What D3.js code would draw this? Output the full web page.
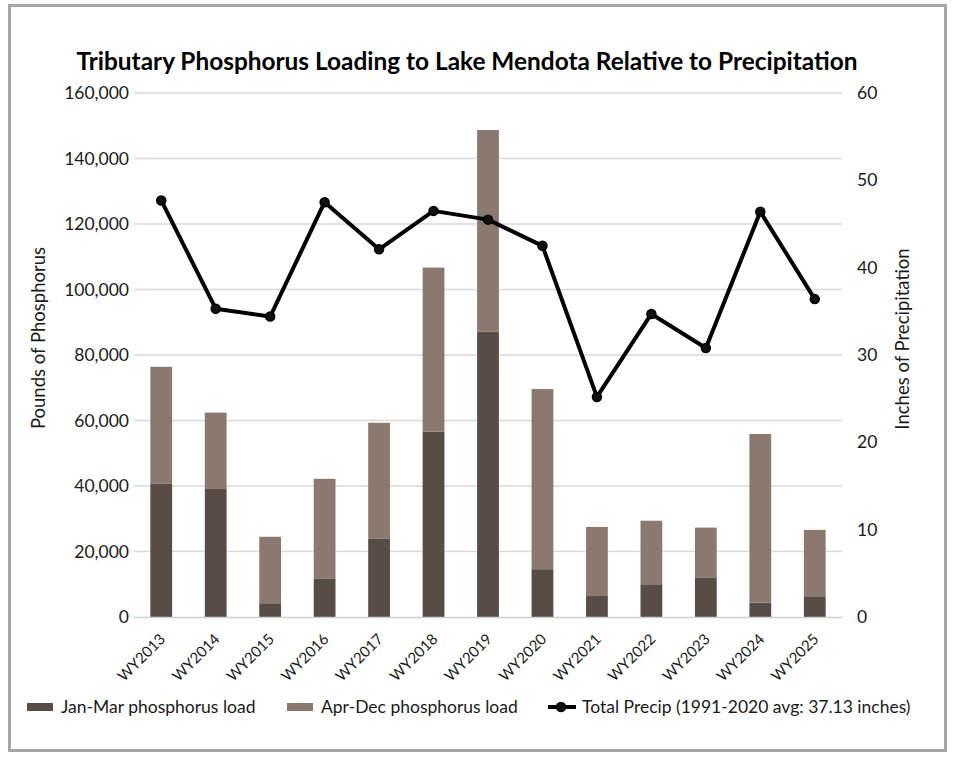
<!DOCTYPE html>
<html>
<head>
<meta charset="utf-8">
<script src="https://cdn.jsdelivr.net/npm/d3@7"></script>
<style>
  html, body { margin: 0; padding: 0; background: #fff; }
  svg { display: block; font-family: Lato, "Open Sans", sans-serif; }
</style>
</head>
<body>
<svg id="chart" width="953" height="759"></svg>
<script>
const categories = ["WY2013","WY2014","WY2015","WY2016","WY2017","WY2018","WY2019","WY2020","WY2021","WY2022","WY2023","WY2024","WY2025"];
const janMarLoad = [40800, 39300, 4200, 11800, 24000, 56600, 87100, 14600, 6400, 10000, 12100, 4400, 6100];
const aprDecLoad = [35600, 23100, 20300, 30400, 35300, 50100, 61600, 55000, 21100, 19400, 15200, 51500, 20500];
const totalPrecip = [47.7, 35.3, 34.4, 47.5, 42.1, 46.5, 45.5, 42.5, 25.2, 34.7, 30.8, 46.4, 36.4];
const leftTicks = [0, 20000, 40000, 60000, 80000, 100000, 120000, 140000, 160000];
const rightTicks = [0, 10, 20, 30, 40, 50, 60];
const seriesNames = ["Jan-Mar phosphorus load", "Apr-Dec phosphorus load", "Total Precip (1991-2020 avg: 37.13 inches)"];
const titleText = "Tributary Phosphorus Loading to Lake Mendota Relative to Precipitation";

const colors = { jan: "#574c46", apr: "#8b7970", line: "#000000", grid: "#d9d9d9" };

const svg = d3.select("#chart");
const m = { left: 134, right: 842, top: 93, bottom: 617 };

// outer border
svg.append("rect").attr("x", 9.5).attr("y", 5.5).attr("width", 936).attr("height", 745)
  .attr("fill", "#fff").attr("stroke", "#a6a6a6").attr("stroke-width", 3);

const x = d3.scaleBand().domain(categories).range([m.left, m.right]).paddingInner(0.6).paddingOuter(0.3);
const yL = d3.scaleLinear().domain([0, 160000]).range([m.bottom, m.top]);
const yR = d3.scaleLinear().domain([0, 60]).range([m.bottom, m.top]);

// gridlines
svg.append("g").selectAll("line").data(leftTicks.slice(1)).join("line")
  .attr("x1", m.left).attr("x2", m.right)
  .attr("y1", d => yL(d)).attr("y2", d => yL(d))
  .attr("stroke", colors.grid).attr("stroke-width", 1.3);

// stacked bars
const stackData = categories.map((c, i) => ({ cat: c, jan: janMarLoad[i], apr: aprDecLoad[i] }));
const stack = d3.stack().keys(["jan", "apr"])(stackData);
const fills = { jan: colors.jan, apr: colors.apr };
svg.append("g").selectAll("g").data(stack).join("g")
  .attr("fill", d => fills[d.key])
  .selectAll("rect").data(d => d).join("rect")
  .attr("x", d => x(d.data.cat))
  .attr("width", x.bandwidth())
  .attr("y", d => yL(d[1]))
  .attr("height", d => yL(d[0]) - yL(d[1]));

// x axis baseline
svg.append("line").attr("x1", m.left).attr("x2", m.right).attr("y1", m.bottom + 0.5).attr("y2", m.bottom + 0.5)
  .attr("stroke", "#d0d0d0").attr("stroke-width", 1.5);

// left axis
const leftAxis = d3.axisLeft(yL).tickValues(leftTicks).tickFormat(d3.format(",")).tickSize(0).tickPadding(5);
const gL = svg.append("g").attr("transform", `translate(${m.left},0)`).call(leftAxis);
gL.select(".domain").remove();
gL.selectAll("text").attr("font-size", 17.5).attr("fill", "#1a1a1a").attr("font-family", "Lato");

// right axis
const rightAxis = d3.axisRight(yR).tickValues(rightTicks).tickSize(0).tickPadding(15);
const gR = svg.append("g").attr("transform", `translate(${m.right},0)`).call(rightAxis);
gR.select(".domain").remove();
gR.selectAll("text").attr("font-size", 17.5).attr("fill", "#1a1a1a").attr("font-family", "Lato");

// x axis labels
const bottomAxis = d3.axisBottom(x).tickSize(0).tickPadding(0);
const gB = svg.append("g").attr("transform", `translate(0,${m.bottom})`).call(bottomAxis);
gB.select(".domain").remove();
gB.selectAll("text")
  .attr("font-size", 15).attr("fill", "#1a1a1a").attr("font-family", "Lato")
  .attr("text-anchor", "end").attr("dy", 0)
  .attr("transform", "translate(5,23) rotate(-45)");

// line
const cx = c => x(c) + x.bandwidth() / 2;
const line = d3.line().x((d, i) => cx(categories[i])).y(d => yR(d));
svg.append("path").datum(totalPrecip).attr("d", line)
  .attr("fill", "none").attr("stroke", colors.line).attr("stroke-width", 4).attr("stroke-linejoin", "round");
svg.append("g").selectAll("circle").data(totalPrecip).join("circle")
  .attr("cx", (d, i) => cx(categories[i])).attr("cy", d => yR(d)).attr("r", 4.5)
  .attr("fill", "#111").attr("stroke", "#000").attr("stroke-width", 1.5);

// title
svg.append("text").attr("x", 467).attr("y", 70).attr("text-anchor", "middle")
  .attr("font-size", 24.4).attr("font-weight", "bold").attr("fill", "#000").text(titleText);

// axis titles
svg.append("text").attr("transform", `translate(45,338) rotate(-90)`).attr("text-anchor", "middle")
  .attr("font-size", 18.5).attr("fill", "#1a1a1a").text("Pounds of Phosphorus");
svg.append("text").attr("transform", `translate(909,339) rotate(-90)`).attr("text-anchor", "middle")
  .attr("font-size", 18.5).attr("fill", "#1a1a1a").text("Inches of Precipitation");

// legend
const lg = svg.append("g").attr("font-size", 17.5).attr("fill", "#1a1a1a");
const legendItems = [
  { name: seriesNames[0], x: 27, type: "rect", color: colors.jan },
  { name: seriesNames[1], x: 287, type: "rect", color: colors.apr },
  { name: seriesNames[2], x: 548, type: "line", color: colors.line }
];
const ly = 707;
legendItems.forEach(it => {
  if (it.type === "rect") {
    lg.append("rect").attr("x", it.x).attr("y", ly - 4).attr("width", 26).attr("height", 8).attr("fill", it.color);
    lg.append("text").attr("x", it.x + 34).attr("y", ly + 6).text(it.name);
  } else {
    lg.append("line").attr("x1", it.x).attr("x2", it.x + 28).attr("y1", ly).attr("y2", ly)
      .attr("stroke", it.color).attr("stroke-width", 4);
    lg.append("circle").attr("cx", it.x + 13).attr("cy", ly).attr("r", 4.5).attr("fill", "#111").attr("stroke", "#000").attr("stroke-width", 1.5);
    lg.append("text").attr("x", it.x + 34).attr("y", ly + 6).text(it.name);
  }
});
</script>
</body>
</html>
